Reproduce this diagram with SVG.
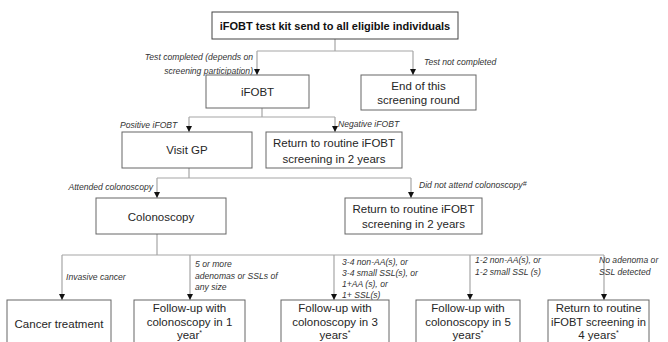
<svg xmlns="http://www.w3.org/2000/svg" width="668" height="342" viewBox="0 0 668 342">
<style>
.box{fill:#fff;stroke:#666;stroke-width:1}
.top{fill:#fff;stroke:#444;stroke-width:1}
.n{font-family:"Liberation Sans",Arial,sans-serif;font-size:11.5px;fill:#262626;text-anchor:middle}
.b{font-weight:bold;font-size:11px;fill:#111}
.l{font-family:"Liberation Sans",Arial,sans-serif;font-size:8.6px;font-style:italic;fill:#333}
.r{text-anchor:end}
.c{fill:none;stroke:#a6a6a6;stroke-width:1.2}
.sup{font-size:7px}
</style>
<defs>
<marker id="ah" viewBox="0 0 6 6" refX="6" refY="3" markerWidth="6" markerHeight="6" markerUnits="userSpaceOnUse" orient="auto">
<path d="M0,0 L6,3 L0,6 Z" fill="#111"/>
</marker>
</defs>
<g id="connectors">
<path class="c" d="M335,39 V51 M257,51 H413" />
<path class="c" d="M257,51 V75" marker-end="url(#ah)"/>
<path class="c" d="M413,51 V75" marker-end="url(#ah)"/>
<path class="c" d="M262,108 V117 M189,117 H335" />
<path class="c" d="M189,117 V132" marker-end="url(#ah)"/>
<path class="c" d="M335,117 V132" marker-end="url(#ah)"/>
<path class="c" d="M189,168 V178 M157,178 H411" />
<path class="c" d="M157,178 V198" marker-end="url(#ah)"/>
<path class="c" d="M411,178 V198" marker-end="url(#ah)"/>
<path class="c" d="M157,234 V255 M62,255 H604" />
<path class="c" d="M62,255 V300" marker-end="url(#ah)"/>
<path class="c" d="M190,255 V300" marker-end="url(#ah)"/>
<path class="c" d="M334,255 V300" marker-end="url(#ah)"/>
<path class="c" d="M470,255 V300" marker-end="url(#ah)"/>
<path class="c" d="M604,255 V300" marker-end="url(#ah)"/>
<text class="l r" x="253" y="60">Test completed (depends on</text>
<text class="l r" x="253" y="74">screening participation)</text>
<text class="l" x="424" y="65">Test not completed</text>
<text class="l" x="120" y="128">Positive iFOBT</text>
<text class="l" x="338" y="127">Negative iFOBT</text>
<text class="l r" x="153" y="190">Attended colonoscopy</text>
<text class="l" x="419" y="188">Did not attend colonoscopy<tspan class="sup" dy="-2">#</tspan></text>
<text class="l" x="66" y="280">Invasive cancer</text>
<text class="l" x="195" y="267">5 or more</text>
<text class="l" x="195" y="279">adenomas or SSLs of</text>
<text class="l" x="195" y="290">any size</text>
<text class="l" x="342" y="265">3-4 non-AA(s), or</text>
<text class="l" x="342" y="276">3-4 small SSL(s), or</text>
<text class="l" x="342" y="287">1+AA (s), or</text>
<text class="l" x="342" y="298">1+ SSL(s)</text>
<text class="l" x="475" y="263">1-2 non-AA(s), or</text>
<text class="l" x="475" y="275">1-2 small SSL (s)</text>
<text class="l" x="599" y="263">No adenoma or</text>
<text class="l" x="599" y="275">SSL detected</text>
</g>
<g id="start">
<rect class="top" x="212" y="12" width="246" height="27"/>
<text class="n b" x="335" y="30">iFOBT test kit send to all eligible individuals</text>
</g>
<g id="ifobt">
<rect class="box" x="206" y="75" width="103" height="33"/>
<text class="n" x="257.5" y="96">iFOBT</text>
</g>
<g id="end">
<rect class="box" x="361" y="75" width="115" height="35"/>
<text class="n" x="418.5" y="90">End of this</text>
<text class="n" x="418.5" y="104">screening round</text>
</g>
<g id="visitgp">
<rect class="box" x="122" y="132" width="130" height="36"/>
<text class="n" x="187" y="154">Visit GP</text>
</g>
<g id="return2a">
<rect class="box" x="266" y="132" width="136" height="36"/>
<text class="n" x="334" y="147">Return to routine iFOBT</text>
<text class="n" x="334" y="163">screening in 2 years</text>
</g>
<g id="colonoscopy">
<rect class="box" x="96" y="198" width="130" height="36"/>
<text class="n" x="161" y="221">Colonoscopy</text>
</g>
<g id="return2b">
<rect class="box" x="345" y="198" width="137" height="36"/>
<text class="n" x="413.5" y="213">Return to routine iFOBT</text>
<text class="n" x="413.5" y="228">screening in 2 years</text>
</g>
<g id="cancer">
<rect class="box" x="7" y="300" width="104" height="50"/>
<text class="n" x="59" y="328">Cancer treatment</text>
</g>
<g id="fu1">
<rect class="box" x="134" y="300" width="111" height="50"/>
<text class="n" x="189.5" y="312">Follow-up with</text>
<text class="n" x="189.5" y="326">colonoscopy in 1</text>
<text class="n" x="189.5" y="339">year<tspan class="sup" dy="-4">*</tspan></text>
</g>
<g id="fu3">
<rect class="box" x="281" y="300" width="108" height="50"/>
<text class="n" x="335" y="312">Follow-up with</text>
<text class="n" x="335" y="326">colonoscopy in 3</text>
<text class="n" x="335" y="339">years<tspan class="sup" dy="-4">*</tspan></text>
</g>
<g id="fu5">
<rect class="box" x="416" y="300" width="104" height="50"/>
<text class="n" x="468" y="312">Follow-up with</text>
<text class="n" x="468" y="326">colonoscopy in 5</text>
<text class="n" x="468" y="339">years<tspan class="sup" dy="-4">*</tspan></text>
</g>
<g id="return4">
<rect class="box" x="548" y="300" width="101" height="50"/>
<text class="n" x="598.5" y="312">Return to routine</text>
<text class="n" x="598.5" y="326" textLength="95" lengthAdjust="spacingAndGlyphs">iFOBT screening in</text>
<text class="n" x="598.5" y="339">4 years<tspan class="sup" dy="-4">*</tspan></text>
</g>
</svg>
